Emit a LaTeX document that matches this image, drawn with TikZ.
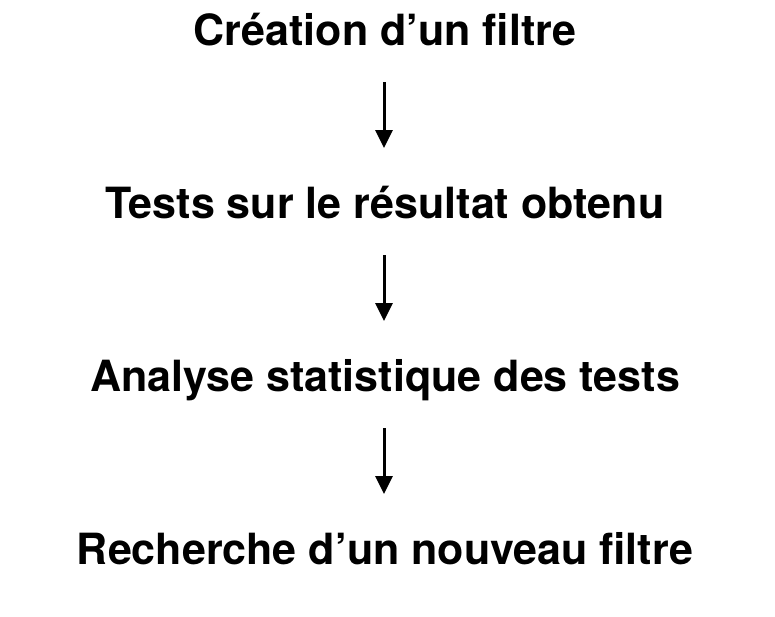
\documentclass[tikz,border=0pt]{standalone}
\usepackage{fontspec}
\setmainfont{TeX Gyre Heros}
\usetikzlibrary{arrows.meta}
\begin{document}
\begin{tikzpicture}[x=1pt,y=-1pt,
  lbl/.style={font=\fontsize{43}{50}\selectfont\bfseries, anchor=base, inner sep=0pt},
  arr/.style={line width=3pt, -{Triangle[width=17pt,length=18pt]}}]
\useasboundingbox[fill=white] (0,0) rectangle (775,616);
\node[lbl] (a) at (385,45) {Création d’un filtre};
\node[lbl] (b) at (385,218) {Tests sur le résultat obtenu};
\node[lbl] (c) at (385,391) {Analyse statistique des tests};
\node[lbl] (d) at (385,564) {Recherche d’un nouveau filtre};
\coordinate (a1) at (384,82); \coordinate (a2) at (384,148);
\coordinate (b1) at (384,255); \coordinate (b2) at (384,321);
\coordinate (c1) at (384,428); \coordinate (c2) at (384,494);
\draw[arr] (a1) -- (a2);
\draw[arr] (b1) -- (b2);
\draw[arr] (c1) -- (c2);
\end{tikzpicture}
\end{document}
